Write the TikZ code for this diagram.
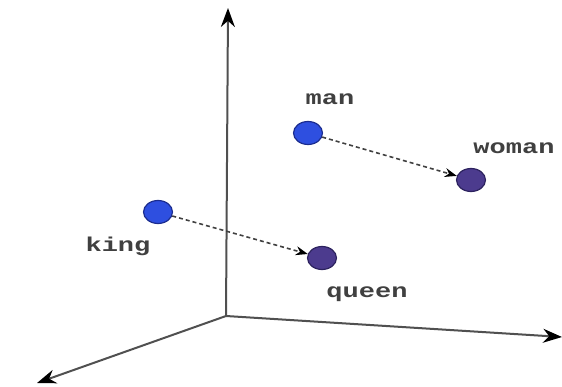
\documentclass[tikz,border=0pt]{standalone}
\usepackage{fontspec}
\setmonofont{Liberation Mono}
\usetikzlibrary{shapes.geometric,arrows.meta,positioning}
\definecolor{kingblue}{HTML}{2E4FE0}
\definecolor{kingedge}{HTML}{1B2C8E}
\definecolor{queenviolet}{HTML}{4C3B8E}
\definecolor{queenedge}{HTML}{2C225E}
\definecolor{axisgray}{HTML}{505050}

\begin{document}
\begin{tikzpicture}[
  x=1pt,y=-1pt,
  dot/.style={ellipse,minimum width=29pt,minimum height=23pt,inner sep=0pt,line width=1.2pt},
  male/.style={dot,fill=kingblue,draw=kingedge},
  female/.style={dot,fill=queenviolet,draw=queenedge},
  word/.style={font=\ttfamily\bfseries\fontsize{20}{22}\selectfont,text=black!75,xscale=1.35,inner sep=1pt},
  axis/.style={-{Stealth[length=19pt,width=14pt,black]},draw=axisgray,line width=2pt},
  link/.style={-{Stealth[length=12pt,width=9pt,black]},draw=black!75,line width=1.6pt,dash pattern=on 4pt off 3pt}
]
  \useasboundingbox (0,0) rectangle (562,387);
  % axes
  \coordinate (o) at (226,316);
  \coordinate (up) at (228,8);
  \coordinate (east) at (562,337);
  \coordinate (south) at (37,383);
  \draw[axis] (o) -- (up);
  \draw[axis] (o) -- (east);
  \draw[axis] (o) -- (south);
  % words
  \node[male] (man) at (308,133) {};
  \node[female] (woman) at (471,180) {};
  \node[male] (king) at (158,212) {};
  \node[female] (queen) at (322,258) {};
  \node[word] (manlbl) at (330,99) {man};
  \node[word] (womanlbl) at (514,148) {woman};
  \node[word] (kinglbl) at (118,246) {king};
  \node[word] (queenlbl) at (367,294) {queen};
  \draw[link] (man) -- (woman);
  \draw[link] (king) -- (queen);
\end{tikzpicture}
\end{document}
